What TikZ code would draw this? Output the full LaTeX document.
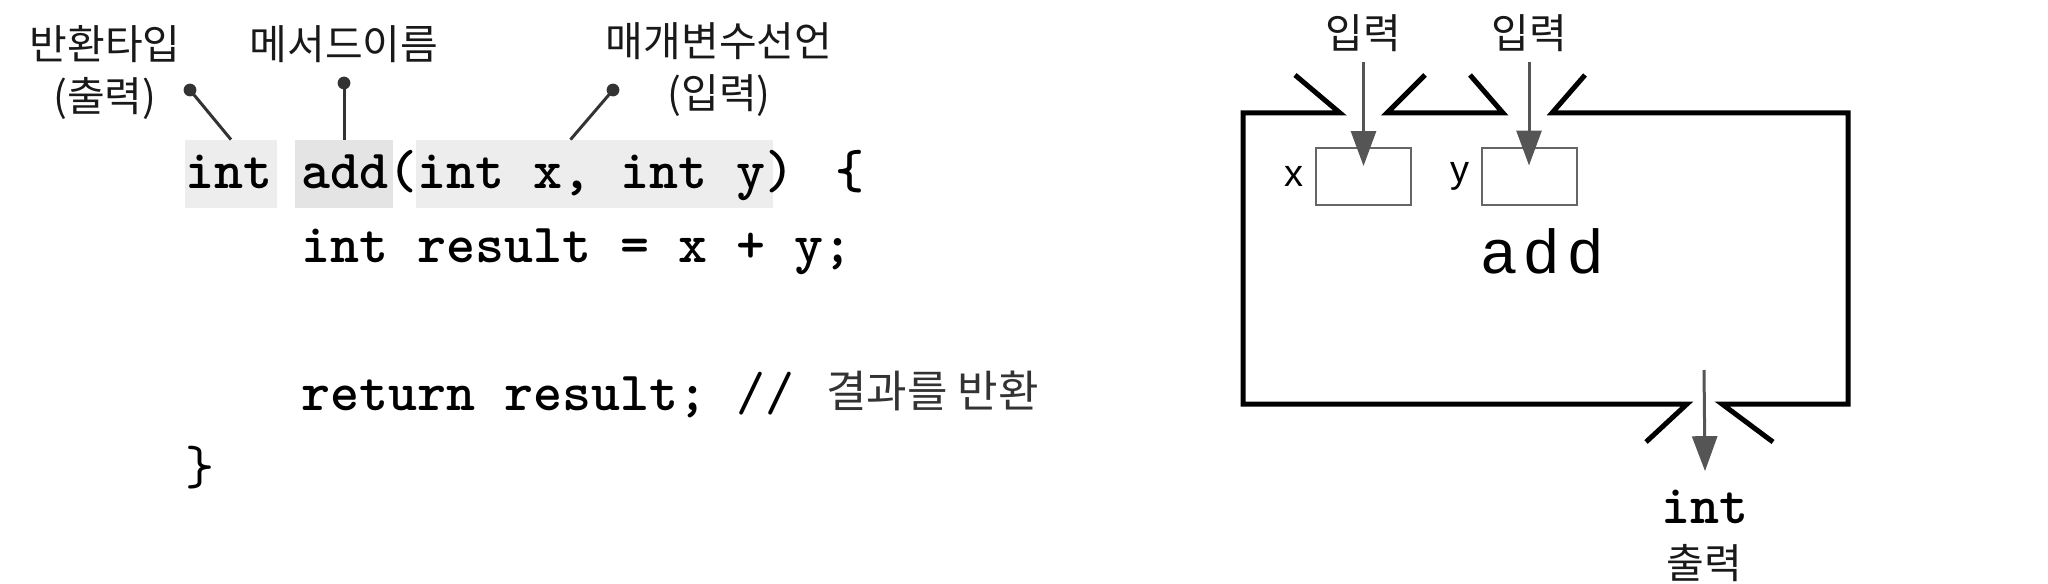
\documentclass[tikz,border=0pt]{standalone}
\usepackage{fontspec}
\newfontfamily\kor{Noto Sans CJK KR}
\newfontfamily\lsans{Liberation Sans}
\newfontfamily\codefont{lmmonolt10-bold}[Extension=.otf]
\newfontfamily\codelight{lmmono10-regular}[Extension=.otf]
\usetikzlibrary{positioning}
\usetikzlibrary{arrows.meta}
\definecolor{hlgray}{HTML}{EDEDED}
\definecolor{hldark}{HTML}{E4E4E4}
\definecolor{arrgray}{HTML}{555555}
\definecolor{ptrgray}{HTML}{333333}
\tikzset{
  code/.style={font=\codefont\fontsize{27.6}{33}\selectfont, anchor=base west, inner sep=0pt},
  kolabel/.style={font=\kor\fontsize{20.5}{26}\selectfont, align=center, inner sep=0pt, text=black!90},
  hl/.style={fill=hlgray, inner sep=0pt, minimum height=34pt},
  pointer/.style={draw=ptrgray, line width=1.5pt},
  varbox/.style={draw=black!60, line width=1pt, minimum width=47.5pt, minimum height=28.5pt, inner sep=0pt},
  varname/.style={font=\lsans\fontsize{19}{22}\selectfont, inner sep=0pt},
  inarrow/.style={draw=arrgray, line width=1.5pt, -{Triangle[width=12.5pt,length=17.5pt]}},
  mainbox/.style={line width=2.5pt, line join=miter},
}
\begin{document}
\begin{tikzpicture}[x=0.5pt,y=-0.5pt]
            \useasboundingbox (0,0) rectangle (2048,583);
            % code
            \node[hl, minimum width=46pt] (hlInt) at (231,174) {};
            \node[hl, minimum width=49pt, fill=hldark] (hlAdd) at (344,174) {};
            \node[hl, minimum width=178.5pt] (hlPar) at (594.5,174) {};
            \node[code] (line1) at (185,188) {int add(int x, int y)\hspace{20.7pt}\{};
            \node[code] (line2) at (301,262) {int result = x + y;};
            \node[code] (line3) at (301,410) {return result;\ {\codelight//}};
            \node[kolabel, anchor=west, text=black!80, font=\kor\fontsize{22}{26}\selectfont] (cmt) at (826,391) {결과를 반환};
            \node[code, font=\codelight\fontsize{27.6}{33}\selectfont] (line4) at (185,484) {\}};
            % labels with pointers
            \node[kolabel] (retLbl) at (105,73) {반환타입\\(출력)};
            \node[kolabel] (nameLbl) at (344,44) {메서드이름};
            \node[kolabel] (parLbl) at (719,70) {매개변수선언\\(입력)};
            \coordinate (retDot) at (190,90);
            \coordinate (nameDot) at (344,83);
            \coordinate (parDot) at (613,90);
            \draw[pointer] (retDot) -- (hlInt.north);
            \draw[pointer] (nameDot) -- (hlAdd.north);
            \draw[pointer] (parDot) -- ([xshift=-12pt]hlPar.north);
            \foreach \d in {retDot,nameDot,parDot}
                \fill[ptrgray] (\d) circle (3.2pt);
            % function box
            \draw[mainbox] (1295,75) -- (1340,113) -- (1243,113) -- (1243,404) -- (1687,404) -- (1646,442);
            \draw[mainbox] (1425,75) -- (1387,113) -- (1503,113) -- (1470,75);
            \draw[mainbox] (1585,75) -- (1552,113) -- (1848,113) -- (1848,404) -- (1722,404) -- (1773,442);
            \node[varbox] (xbox) at (1363.5,176.5) {};
            \node[varbox] (ybox) at (1529,176) {};
            \node[varname, left=5.5pt of xbox] (xname) {x};
            \node[varname, left=5.5pt of ybox] (yname) {y};
            \node[font=\lsans\fontsize{31}{35}\selectfont, inner sep=0pt] (fname) at (1542,251) {a\kern4.5pt d\kern4.5pt d};
            \node[kolabel] (inX) at (1363.5,33) {입력};
            \node[kolabel] (inY) at (1529,33) {입력};
            \draw[inarrow] ([yshift=-5pt]inX.south) -- ([yshift=-9.5pt]xbox.north);
            \draw[inarrow] ([yshift=-5pt]inY.south) -- ([yshift=-9.5pt]ybox.north);
            % output
            \coordinate (outStart) at (1704,370);
            \node[code, anchor=base] (outType) at (1705,523) {int};
            \node[kolabel] (outLbl) at (1704,563) {출력};
            \draw[inarrow] (outStart) -- ([yshift=9pt]outType.north);
        \end{tikzpicture}
\end{document}
